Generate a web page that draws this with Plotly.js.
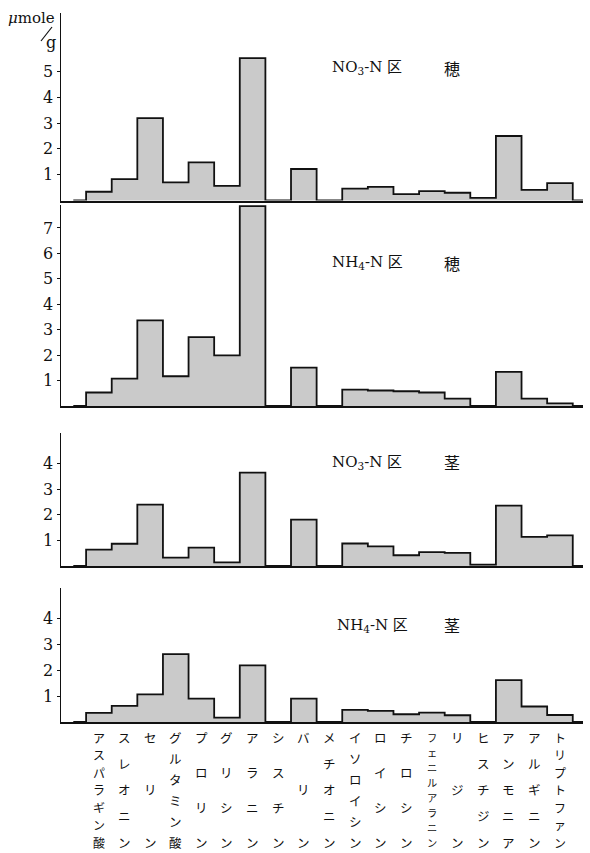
<!DOCTYPE html>
<html><head><meta charset="utf-8">
<script src="https://cdn.plot.ly/plotly-3.0.1.min.js"></script>
<style>html,body{margin:0;padding:0;background:#fff}</style>
</head><body><div id="chart" style="width:590px;height:853px"></div>
<script>
// ---- data ----
const categories = ['アスパラギン酸','スレオニン','セリン','グルタミン酸','プロリン','グリシン','アラニン','シスチン','バリン','メチオニン','イソロイシン','ロイシン','チロシン','フェニルアラニン','リジン','ヒスチジン','アンモニア','アルギニン','トリプトファン'];
const no3Ear  = [0.34,0.83,3.19,0.70,1.48,0.57,5.52,0,1.22,0,0.46,0.53,0.25,0.36,0.30,0.10,2.50,0.41,0.67];
const nh4Ear  = [0.53,1.08,3.37,1.17,2.71,1.99,7.86,0,1.51,0,0.64,0.61,0.58,0.53,0.29,0,1.34,0.29,0.10];
const no3Stem = [0.64,0.87,2.40,0.33,0.72,0.14,3.65,0,1.81,0,0.88,0.77,0.42,0.54,0.51,0.05,2.36,1.14,1.20];
const nh4Stem = [0.35,0.62,1.07,2.62,0.90,0.17,2.19,0,0.90,0,0.47,0.43,0.30,0.36,0.26,0,1.62,0.60,0.27];
const panelTitles = ['NO<sub>3</sub>-N 区','NH<sub>4</sub>-N 区','NO<sub>3</sub>-N 区','NH<sub>4</sub>-N 区'];
const panelParts = ['穂','穂','茎','茎'];
const yTickVals = [[1,2,3,4,5],[1,2,3,4,5,6,7],[1,2,3,4],[1,2,3,4]];
const unitLabel = '<i>μ</i>mole';
const unitLabel2 = 'g';

// ---- layout helpers ----
const W = 590, H = 853;
const px = x => x / W;
const py = y => 1 - y / H;
const series = [no3Ear, nh4Ear, no3Stem, nh4Stem];
const panels = [
  {top: 13.4, base: 200.5, rmax: 7.25, titleY: 68,  titleX: 330},
  {top: 205.1, base: 406,  rmax: 7.9,  titleY: 263, titleX: 330},
  {top: 432.9, base: 566,  rmax: 5.2,  titleY: 462, titleX: 330},
  {top: 588,  base: 722,   rmax: 5.18, titleY: 625, titleX: 335}
];
const serif = 'DejaVu Serif';
const jp = 'Noto Sans CJK JP';
const idx = categories.map((_, i) => i);

const data = [];
const layout = {
  width: W, height: H, margin: {l: 0, r: 0, t: 0, b: 0},
  paper_bgcolor: '#fff', plot_bgcolor: 'rgba(0,0,0,0)',
  showlegend: false, bargap: 0, annotations: [], shapes: []
};

series.forEach((vals, p) => {
  const s = p === 0 ? '' : String(p + 1);
  data.push({
    type: 'bar', x: idx, y: vals, xaxis: 'x' + s, yaxis: 'y' + s, width: 1,
    marker: {color: '#cacaca', line: {width: 0}},
    hoverinfo: 'x+y'
  });
  data.push({
    type: 'scatter', mode: 'lines', xaxis: 'x' + s, yaxis: 'y' + s,
    x: [-1].concat(idx, [categories.length]), y: [0].concat(vals, [0]),
    line: {shape: 'hvh', color: '#111', width: 1.8}, cliponaxis: false, hoverinfo: 'skip'
  });
  const pn = panels[p];
  layout['xaxis' + s] = {
    domain: [px(61), px(583)], anchor: 'y' + s, range: [-1.48, 18.9],
    showline: true, linecolor: '#111', linewidth: 2, showticklabels: false,
    ticks: '', showgrid: false, zeroline: false, fixedrange: true
  };
  layout['yaxis' + s] = {
    domain: [py(pn.base), py(pn.top)], anchor: 'x' + s, range: [0, pn.rmax],
    showline: true, linecolor: '#111', linewidth: 1.5, ticks: 'outside', ticklen: 3,
    tickcolor: '#111', tickwidth: 1, tickvals: yTickVals[p], ticktext: yTickVals[p].map(String),
    tickfont: {family: serif, size: 16, color: '#111'}, showgrid: false, zeroline: false, fixedrange: true
  };
  layout.annotations.push({
    xref: 'paper', yref: 'paper', x: px(pn.titleX), y: py(pn.titleY), xanchor: 'left', yanchor: 'middle',
    text: panelTitles[p], showarrow: false, font: {family: serif + ', ' + jp, size: 15, color: '#111'}
  });
  layout.annotations.push({
    xref: 'paper', yref: 'paper', x: px(452), y: py(pn.titleY), xanchor: 'center', yanchor: 'middle',
    text: panelParts[p], showarrow: false, font: {family: jp, size: 16, color: '#111'}
  });
});

// vertical category labels (one character per line, spread over the column)
const labTop = 737, labBot = 842;
categories.forEach((name, i) => {
  const chars = Array.from(name);
  const n = chars.length;
  const step = (labBot - labTop) / (n - 1);
  const size = Math.min(12.5, step / 1.46);
  chars.forEach((ch, k) => {
    layout.annotations.push({
      xref: 'x4', yref: 'paper', x: i, y: py(labTop + k * step), xanchor: 'center', yanchor: 'middle',
      borderpad: 0, text: ch, showarrow: false, font: {family: jp, size: size, color: '#111'}
    });
  });
});

// unit label
layout.annotations.push({xref: 'paper', yref: 'paper', x: px(31), y: py(18), xanchor: 'center', yanchor: 'middle',
  text: unitLabel, showarrow: false, font: {family: serif, size: 15, color: '#111'}});
layout.annotations.push({xref: 'paper', yref: 'paper', x: px(51), y: py(43), xanchor: 'center', yanchor: 'middle',
  text: unitLabel2, showarrow: false, font: {family: serif, size: 16, color: '#111'}});
layout.shapes.push({type: 'line', xref: 'paper', yref: 'paper', x0: px(41), y0: py(41), x1: px(52), y1: py(27),
  line: {color: '#111', width: 1.2}});

Plotly.newPlot('chart', data, layout, {displayModeBar: false, staticPlot: true});
</script></body></html>
